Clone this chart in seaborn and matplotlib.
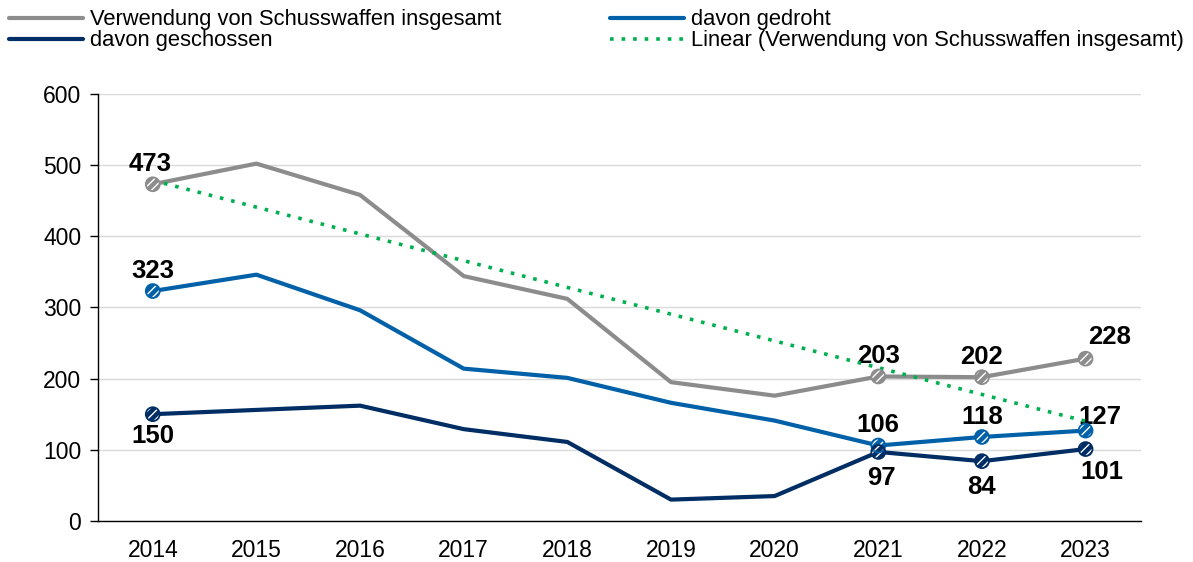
import numpy as np
import pandas as pd
import matplotlib.pyplot as plt
import seaborn as sns

# Daten
jahre = [2014, 2015, 2016, 2017, 2018, 2019, 2020, 2021, 2022, 2023]
insgesamt = [473, 502, 458, 344, 312, 195, 176, 203, 202, 228]
gedroht = [323, 346, 296, 214, 201, 166, 141, 106, 118, 127]
geschossen = [150, 156, 162, 129, 111, 30, 35, 97, 84, 101]
markiert = [2014, 2021, 2022, 2023]

sns.set_theme(style="white")
plt.rcParams["font.family"] = ["Liberation Sans", "DejaVu Sans"]
plt.rcParams["text.color"] = "black"
plt.rcParams["xtick.color"] = "black"
plt.rcParams["ytick.color"] = "black"

df = pd.DataFrame({"Jahr": jahre, "insgesamt": insgesamt,
                   "gedroht": gedroht, "geschossen": geschossen})

farben = {"insgesamt": "#8c8c8c", "gedroht": "#0061a8", "geschossen": "#002d64"}
namen = {"insgesamt": "Verwendung von Schusswaffen insgesamt",
         "gedroht": "davon gedroht",
         "geschossen": "davon geschossen"}

fig, ax = plt.subplots(figsize=(11.93, 5.62), dpi=100)
fig.subplots_adjust(left=0.082, right=0.956, top=0.833, bottom=0.073)

# Linien
for sp in ["insgesamt", "gedroht", "geschossen"]:
    sns.lineplot(data=df, x="Jahr", y=sp, ax=ax, color=farben[sp],
                 linewidth=3, label=namen[sp], zorder=3)

# Linearer Trend
k, d = np.polyfit(jahre, insgesamt, 1)
trend = [k * j + d for j in jahre]
ax.plot(jahre, trend, linestyle=(0, (1, 2.2)), color="#00b050", linewidth=2.6,
        label="Linear (Verwendung von Schusswaffen insgesamt)", zorder=4)

# Markierte Punkte
sel = df[df["Jahr"].isin(markiert)]
for sp in ["insgesamt", "gedroht", "geschossen"]:
    ax.scatter(sel["Jahr"], sel[sp], s=100, facecolor=farben[sp],
               edgecolor="white", hatch="////", linewidth=0, zorder=5)
    ax.scatter(sel["Jahr"], sel[sp], s=100, facecolor="none",
               edgecolor=farben[sp], linewidth=1.3, zorder=6)

# Beschriftungen
lab_kw = dict(fontsize=18.5, fontweight="bold", color="black", ha="center")
oben = {2014: (-2, 6), 2021: (0, 6), 2022: (0, 6), 2023: (17, 7)}
for j, v in zip(sel["Jahr"], sel["insgesamt"]):
    ax.annotate(str(v), (j, v), xytext=oben[j], textcoords="offset points",
                va="bottom", **lab_kw)
mitte = {2014: (0, 6), 2021: (0, 6), 2022: (0, 6), 2023: (10, 1)}
for j, v in zip(sel["Jahr"], sel["gedroht"]):
    ax.annotate(str(v), (j, v), xytext=mitte[j], textcoords="offset points",
                va="bottom", **lab_kw)
unten = {2014: (0, -7), 2021: (2, -10), 2022: (0, -10), 2023: (12, -8)}
for j, v in zip(sel["Jahr"], sel["geschossen"]):
    ax.annotate(str(v), (j, v), xytext=unten[j], textcoords="offset points",
                va="top", **lab_kw)

# Achsen
ax.set_xlim(2014 - 0.53, 2023 + 0.53)
ax.set_ylim(0, 600)
ax.set_yticks(range(0, 601, 100))
ax.set_xticks(jahre)
ax.set_xlabel("")
ax.set_ylabel("")
ax.grid(axis="y", color="#d9d9d9", linewidth=1)
ax.set_axisbelow(True)
for s in ["top", "right"]:
    ax.spines[s].set_visible(False)
for s in ["left", "bottom"]:
    ax.spines[s].set_color("black")
    ax.spines[s].set_linewidth(1)
ax.tick_params(axis="y", which="major", left=True, length=6, width=1,
               color="black", labelsize=16.5, pad=6)
ax.tick_params(axis="x", bottom=False, labelsize=16.5, pad=7)

# Legende
handles, labels = ax.get_legend_handles_labels()
order = [0, 2, 1, 3]
ax.legend([handles[i] for i in order], [labels[i] for i in order],
          ncol=2, loc="lower left", bbox_to_anchor=(-0.094, 1.079, 1.144, 0.1),
          mode="expand", frameon=False, fontsize=15.8, handlelength=3.4,
          handletextpad=0.3, labelspacing=0.0, borderaxespad=0)

plt.savefig("out.png", dpi=100)
